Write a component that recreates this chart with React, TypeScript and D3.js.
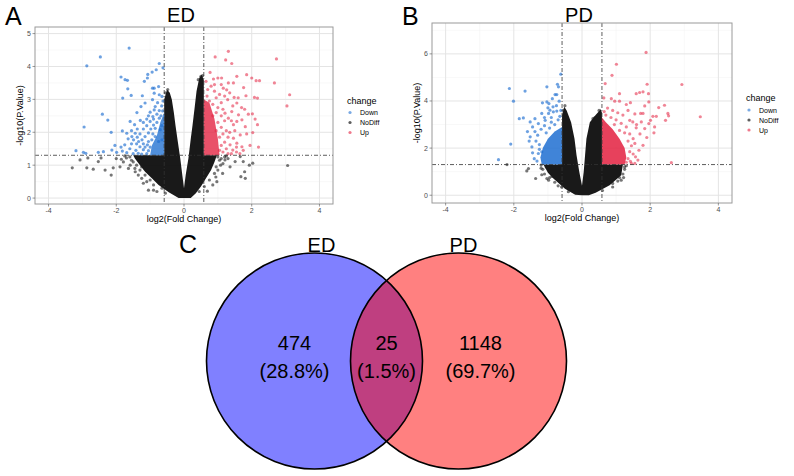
import React from "react";
import * as d3 from "d3";

// ---------- values ----------
const changeLevels = ["Down", "NoDiff", "Up"];
const changeColours = ["#1f6fd1", "#1a1a1a", "#e3203f"];

const xTicks = [-4, -2, 0, 2, 4];
const xMinor = [-3, -1, 1, 3];
const edYTicks = [0, 1, 2, 3, 4, 5];
const edYMinor = [0.5, 1.5, 2.5, 3.5, 4.5];
const pdYTicks = [0, 2, 4, 6];
const pdYMinor = [1, 3, 5, 7];

const fcCut = 0.585; // log2(1.5)
const pCut = 1.301; // -log10(0.05)

// ED: dense NoDiff cloud outline, dense coloured cores, then single points
const edCore = [[0, 0], [-0.16, 0], [-0.45, 0.18], [-0.75, 0.4], [-0.95, 0.6], [-1.15, 0.8], [-1.3, 1.0], [-1.45, 1.2], [-1.5, 1.3], [-0.585, 1.3], [-0.585, 3.0], [-0.5, 3.3], [-0.42, 3.2], [-0.36, 3.0], [-0.3, 2.6], [-0.25, 2.2], [-0.18, 1.7], [-0.11, 1.2], [-0.05, 0.7], [0, 0.3], [0.05, 0.7], [0.13, 1.2], [0.2, 1.8], [0.25, 2.2], [0.32, 2.8], [0.37, 3.25], [0.45, 3.65], [0.52, 3.75], [0.585, 3.6], [0.585, 1.3], [0.97, 1.3], [0.9, 1.1], [0.8, 0.85], [0.65, 0.6], [0.5, 0.35], [0.35, 0.15], [0.2, 0]];
const edDownCore = [[-0.585, 1.3], [-1.0, 1.3], [-0.95, 1.6], [-0.8, 1.9], [-0.7, 2.3], [-0.585, 2.6]];
const edUpCore = [[0.585, 1.3], [1.05, 1.3], [1.0, 1.8], [0.9, 2.4], [0.75, 2.9], [0.585, 3.0]];

const edDown = [[-1.62, 4.56], [-2.47, 4.29], [-2.87, 4.02], [-0.73, 4.09], [-0.62, 3.96], [-0.82, 3.9], [-0.94, 3.83], [-1.07, 3.76], [-1.08, 3.65], [-1.17, 3.55], [-1.86, 3.68], [-1.74, 3.6], [-1.67, 3.58], [-1.66, 3.32], [-1.56, 3.12], [-1.81, 3.04], [-1.23, 3.11], [-0.93, 3.34], [-0.88, 3.34], [-0.75, 3.39], [-0.88, 3.19], [-0.73, 3.14], [-0.65, 3.09], [-0.93, 2.99], [-1.15, 2.89], [-1.27, 2.78], [-1.39, 2.6], [-1.0, 2.61], [-0.88, 2.68], [-0.8, 2.55], [-0.73, 2.66], [-0.63, 2.65], [-2.41, 2.55], [-2.25, 2.37], [-2.95, 2.16], [-2.15, 2.0], [-1.59, 2.33], [-1.29, 2.36], [-1.2, 2.3], [-1.1, 2.4], [-1.0, 2.33], [-0.9, 2.4], [-0.8, 2.3], [-0.73, 2.43], [-1.46, 2.23], [-1.82, 2.04], [-1.69, 1.97], [-1.54, 1.87], [-1.44, 1.97], [-1.49, 1.77], [-1.34, 1.72], [-1.24, 1.77], [-1.15, 1.87], [-1.05, 1.72], [-0.95, 1.77], [-0.85, 1.87], [-0.75, 1.72], [-0.65, 1.77], [-3.19, 1.44], [-2.97, 1.39], [-2.9, 1.36], [-2.53, 1.39], [-2.38, 1.41], [-2.13, 1.46], [-1.99, 1.39], [-1.82, 1.43], [-1.69, 1.38], [-2.04, 1.6], [-1.86, 1.55], [-1.5, 1.35], [-1.35, 1.36], [-1.25, 1.34], [-1.1, 1.35], [-1.42, 1.45], [-1.2, 1.47], [-1.05, 1.44], [-1.3, 1.56], [-1.15, 1.55], [-1.0, 1.55], [-1.4, 1.65], [-1.2, 1.65], [-1.08, 1.62], [-1.3, 1.95], [-1.05, 1.98], [-0.92, 1.95], [-1.2, 2.1], [-0.98, 2.1], [-0.85, 2.12], [-0.7, 2.08], [-1.1, 2.2], [-0.9, 2.22], [-0.66, 2.2], [-1.05, 2.5], [-0.92, 2.48], [-0.68, 2.5], [-0.85, 2.78], [-0.66, 2.8], [-0.78, 2.9], [-0.62, 2.95], [-1.6, 1.5], [-1.75, 1.62], [-1.55, 1.65], [-1.65, 1.8], [-1.38, 1.85], [-1.38, 2.1], [-1.55, 2.05]];

const edUp = [[1.31, 4.46], [0.92, 4.29], [1.23, 4.2], [1.41, 4.09], [2.73, 4.23], [0.77, 3.82], [1.0, 3.65], [1.11, 3.65], [0.87, 3.62], [1.56, 3.7], [1.85, 3.75], [2.0, 3.65], [2.13, 3.57], [2.23, 3.57], [2.67, 3.5], [1.31, 3.5], [1.46, 3.5], [1.76, 3.36], [1.16, 3.34], [1.26, 3.29], [3.12, 3.14], [3.04, 2.8], [1.48, 3.06], [1.83, 3.11], [2.08, 3.06], [2.17, 3.04], [1.29, 2.99], [1.44, 2.8], [1.56, 2.89], [1.79, 2.7], [2.02, 2.56], [2.1, 2.4], [2.17, 2.23], [2.03, 1.99], [2.2, 1.55], [1.81, 2.17], [1.66, 1.92], [1.46, 2.23], [1.56, 2.33], [1.71, 2.38], [1.61, 2.53], [1.41, 2.63], [1.31, 2.43], [1.21, 2.58], [1.46, 1.82], [1.56, 1.67], [1.36, 1.62], [1.71, 1.56], [1.44, 1.46], [0.65, 3.55], [0.7, 3.3], [0.8, 3.4], [0.9, 3.25], [0.68, 3.1], [0.95, 3.05], [1.05, 3.15], [0.75, 2.95], [1.1, 2.9], [0.85, 2.85], [1.0, 2.75], [1.15, 2.7], [0.95, 2.6], [1.1, 2.5], [0.85, 2.5], [1.2, 2.35], [1.0, 2.3], [1.1, 2.15], [0.95, 2.05], [1.25, 2.05], [1.15, 1.95], [1.05, 1.85], [1.3, 1.85], [1.2, 1.7], [1.1, 1.6], [1.25, 1.5], [1.15, 1.4], [1.3, 1.35], [1.05, 1.45], [1.4, 1.35], [1.55, 1.4], [1.65, 1.35], [1.35, 2.0], [1.5, 2.05], [1.4, 2.35], [1.2, 3.1], [1.35, 3.2], [1.1, 3.45], [0.9, 3.45], [1.6, 3.05], [1.7, 2.75], [1.9, 2.55], [1.85, 1.95], [1.95, 1.6], [1.75, 1.45], [1.55, 1.55]];

const edNoDiff = [[-3.3, 0.92], [-3.07, 1.16], [-2.87, 0.92], [-2.68, 0.88], [-2.33, 0.85], [-2.15, 0.7], [-2.53, 1.11], [-2.84, 1.22], [-2.45, 1.22], [-2.09, 0.92], [-1.89, 0.95], [-1.79, 1.1], [-1.64, 0.9], [-1.44, 0.8], [-1.2, 0.45], [-1.05, 0.24], [-0.9, 0.24], [-1.25, 0.6], [-1.59, 1.0], [-2.0, 1.2], [-1.7, 1.22], [-1.3, 0.85], [-1.5, 1.1], [-1.35, 0.7], [-1.1, 0.5], [-0.8, 0.2], [-1.6, 1.25], [-1.55, 1.15], [-1.4, 1.0], [-1.25, 0.95], [-1.15, 0.7], [-1.0, 0.55], [-0.9, 0.4], [-0.65, 0.3], [-0.55, 0.15], [-1.75, 1.28], [-1.85, 1.18], [-1.45, 0.9], [1.21, 1.16], [1.36, 0.95], [1.51, 1.11], [1.66, 1.26], [1.75, 1.11], [1.79, 0.8], [1.68, 0.65], [1.81, 0.6], [1.93, 1.0], [2.03, 1.06], [3.06, 0.99], [1.14, 0.75], [0.97, 0.5], [0.69, 0.21], [1.08, 1.0], [0.94, 0.64], [1.2, 1.25], [1.3, 1.2], [1.1, 1.2], [1.0, 0.85], [0.85, 0.4], [1.0, 1.25], [1.05, 1.15], [0.95, 0.95], [0.9, 0.75], [0.75, 0.55], [0.6, 0.35], [0.45, 0.2], [1.15, 1.05], [1.25, 1.28], [-0.48, 3.3], [-0.55, 3.2], [0.5, 3.7], [0.42, 3.6], [0.55, 3.72]];

// PD
const pdCore = [[0, 0], [-0.2, 0.02], [-0.5, 0.28], [-0.84, 0.71], [-1.0, 0.95], [-1.13, 1.3], [-0.585, 1.3], [-0.585, 3.4], [-0.52, 3.75], [-0.45, 3.6], [-0.32, 3.1], [-0.22, 2.4], [-0.16, 1.7], [-0.08, 1.0], [0, 0.4], [0.05, 1.0], [0.09, 1.7], [0.13, 2.4], [0.23, 3.1], [0.4, 3.4], [0.55, 3.65], [0.585, 3.5], [0.585, 1.3], [1.2, 1.3], [1.15, 0.85], [0.81, 0.42], [0.4, 0.1], [0.2, 0]];
const pdDownCore = [[-0.585, 1.3], [-1.18, 1.3], [-1.22, 1.6], [-1.15, 2.0], [-1.0, 2.4], [-0.8, 2.7], [-0.585, 2.9]];
const pdUpCore = [[0.585, 1.3], [1.25, 1.3], [1.3, 1.6], [1.25, 2.0], [1.1, 2.4], [0.9, 2.8], [0.7, 3.1], [0.585, 3.3]];

const pdDown = [[-0.62, 5.14], [-0.72, 4.71], [-0.69, 4.6], [-1.03, 4.6], [-2.13, 4.53], [-1.67, 4.42], [-2.01, 3.99], [-0.79, 4.27], [-0.74, 4.27], [-0.87, 4.1], [-0.67, 3.99], [-1.16, 3.92], [-1.03, 3.96], [-0.97, 3.89], [-1.0, 3.71], [-0.94, 3.61], [-0.98, 3.47], [-1.18, 3.47], [-0.84, 3.54], [-0.74, 3.57], [-1.84, 3.25], [-1.72, 3.28], [-1.38, 3.25], [-1.52, 3.11], [-1.28, 3.04], [-1.08, 3.18], [-2.09, 2.17], [-2.45, 1.51], [-1.52, 2.48], [-1.47, 2.05], [-1.38, 2.7], [-1.18, 1.84], [-1.28, 1.77], [-1.4, 1.55], [-1.45, 1.8], [-1.35, 2.3], [-1.3, 2.55], [-1.2, 2.8], [-1.1, 2.95], [-0.9, 3.1], [-0.7, 3.2], [-0.8, 3.0], [-0.65, 3.35], [-1.05, 2.65], [-0.95, 2.85], [-1.25, 2.15], [-1.32, 1.45], [-1.25, 1.95], [-1.55, 2.3], [-1.6, 2.7], [-1.45, 2.9], [-0.9, 3.3], [-1.1, 3.3], [-0.75, 3.8], [-0.62, 3.6], [-0.85, 3.75]];

const pdUp = [[1.88, 6.06], [1.01, 5.56], [0.88, 5.09], [0.68, 4.74], [2.93, 4.7], [1.91, 4.71], [1.59, 4.31], [1.69, 4.36], [1.79, 4.39], [1.95, 4.31], [1.1, 4.31], [0.64, 4.13], [0.86, 4.1], [0.96, 3.99], [1.1, 3.99], [1.42, 3.93], [1.3, 3.85], [1.96, 3.96], [2.42, 3.82], [2.25, 3.72], [1.84, 3.79], [1.72, 3.47], [1.79, 3.47], [2.52, 3.47], [2.54, 3.37], [3.47, 3.33], [2.08, 3.35], [2.18, 3.35], [2.01, 3.18], [2.45, 3.18], [2.13, 2.9], [1.96, 3.04], [1.74, 3.11], [1.4, 3.18], [1.49, 3.11], [2.11, 2.65], [1.84, 2.83], [1.59, 2.86], [1.79, 2.12], [1.67, 1.91], [1.57, 1.63], [1.64, 1.49], [1.42, 1.44], [2.62, 1.38], [0.75, 3.7], [0.9, 3.6], [1.05, 3.5], [1.2, 3.4], [0.7, 3.4], [0.85, 3.3], [1.0, 3.2], [1.15, 3.05], [1.3, 2.9], [1.25, 2.65], [1.4, 2.6], [1.5, 2.4], [1.45, 2.1], [1.55, 2.2], [1.4, 1.85], [1.5, 1.75], [1.35, 1.55], [1.45, 1.35], [1.55, 1.35], [1.3, 1.4], [1.1, 2.75], [0.95, 3.0], [0.65, 3.55], [1.35, 3.6], [1.55, 3.45], [1.6, 3.0], [1.7, 2.6], [1.9, 2.45], [1.35, 2.3]];

const pdNoDiff = [[-2.2, 1.3], [-1.57, 1.13], [-1.62, 1.03], [-1.18, 0.87], [-1.36, 0.71], [-0.98, 0.64], [-1.03, 0.71], [-0.88, 0.8], [-1.2, 1.15], [-1.05, 1.2], [-0.7, 0.4], [-1.2, 1.28], [-1.15, 1.1], [-1.1, 0.9], [-0.95, 0.75], [-0.8, 0.55], [-0.6, 0.35], [-0.4, 0.15], [1.15, 0.64], [1.2, 0.9], [1.25, 1.2], [1.1, 0.75], [0.9, 0.5], [1.25, 1.1], [1.22, 0.75], [1.05, 0.6], [0.9, 0.35], [0.6, 0.2], [1.3, 1.25], [0.32, 3.25], [0.38, 3.3], [0.5, 3.6], [-0.5, 3.8], [-0.55, 3.6]];

// Venn
const vennSets = ["ED", "PD"];
const vennCounts = [474, 25, 1148];
const vennPercents = ["28.8%", "1.5%", "69.7%"];
const vennFills = ["#8080ff", "#ff8080", "#bf3f80"];

const font = "'Liberation Sans', Arial, Helvetica, sans-serif";

type Pt = number[];

const Volcano = ({ id, tag, title, box, yDomain, yTicks, yMinor, core, downCore, upCore, coreOpacity, down, up, noDiff }: any) => {
  const x = d3.scaleLinear().domain([-4.4, 4.4]).range([box.left, box.right]);
  const y = d3.scaleLinear().domain(yDomain).range([box.bottom, box.top]);
  const poly = d3.line<Pt>().x(d => x(d[0])).y(d => y(d[1])).curve(d3.curveLinearClosed);
  const midX = (box.left + box.right) / 2;
  const midY = (box.top + box.bottom) / 2;
  const pt = (d: Pt, i: number, c: string, o: number) => (
    <circle key={i} cx={x(d[0])} cy={y(d[1])} r={1.6} fill={c} fillOpacity={o} />
  );
  return (
    <g>
      <text x={box.left - 30} y={25} fontSize={25}>{tag}</text>
      <text x={midX - 3} y={22} fontSize={20} textAnchor="middle">{title}</text>
      <clipPath id={id}><rect x={box.left} y={box.top} width={box.right - box.left} height={box.bottom - box.top} /></clipPath>
      <g clipPath={`url(#${id})`}>
        {xMinor.map(t => <line key={"xm" + t} x1={x(t)} x2={x(t)} y1={box.top} y2={box.bottom} stroke="#f0f0f0" strokeWidth={0.5} />)}
        {yMinor.map((t: number) => <line key={"ym" + t} y1={y(t)} y2={y(t)} x1={box.left} x2={box.right} stroke="#f0f0f0" strokeWidth={0.5} />)}
        {xTicks.map(t => <line key={"xg" + t} x1={x(t)} x2={x(t)} y1={box.top} y2={box.bottom} stroke="#e4e4e4" strokeWidth={1} />)}
        {yTicks.map((t: number) => <line key={"yg" + t} y1={y(t)} y2={y(t)} x1={box.left} x2={box.right} stroke="#e4e4e4" strokeWidth={1} />)}
        <path d={poly(core) || ""} fill="#0d0d0d" fillOpacity={0.95} />
        {noDiff.map((d: Pt, i: number) => pt(d, i, changeColours[1], 0.6))}
        <path d={poly(downCore) || ""} fill={changeColours[0]} fillOpacity={coreOpacity} />
        {down.map((d: Pt, i: number) => pt(d, i, changeColours[0], 0.65))}
        <path d={poly(upCore) || ""} fill={changeColours[2]} fillOpacity={coreOpacity} />
        {up.map((d: Pt, i: number) => pt(d, i, changeColours[2], 0.55))}
        {[-fcCut, fcCut].map(v => (
          <line key={"v" + v} x1={x(v)} x2={x(v)} y1={box.top} y2={box.bottom} stroke="#333" strokeWidth={0.8} strokeDasharray="4 2 1 2" />
        ))}
        <line x1={box.left} x2={box.right} y1={y(pCut)} y2={y(pCut)} stroke="#333" strokeWidth={0.8} strokeDasharray="4 2 1 2" />
      </g>
      <rect x={box.left} y={box.top} width={box.right - box.left} height={box.bottom - box.top} fill="none" stroke="#9a9a9a" strokeWidth={1} />
      {xTicks.map(t => (
        <g key={"xt" + t}>
          <line x1={x(t)} x2={x(t)} y1={box.bottom} y2={box.bottom + 2.5} stroke="#555" strokeWidth={0.6} />
          <text x={x(t)} y={box.bottom + 9} fontSize={7} fill="#4d4d4d" textAnchor="middle">{t < 0 ? "-" + Math.abs(t) : t}</text>
        </g>
      ))}
      {yTicks.map((t: number) => (
        <g key={"yt" + t}>
          <line x1={box.left - 2.5} x2={box.left} y1={y(t)} y2={y(t)} stroke="#555" strokeWidth={0.6} />
          <text x={box.left - 4} y={y(t) + 2.5} fontSize={7} fill="#4d4d4d" textAnchor="end">{t}</text>
        </g>
      ))}
      <text x={midX} y={box.bottom + 18} fontSize={9} textAnchor="middle">log2(Fold Change)</text>
      <text transform={`translate(${box.left - 12},${midY}) rotate(-90)`} fontSize={9} textAnchor="middle">-log10(P.Value)</text>
      <g transform={`translate(${box.right + 14},${midY - 12})`}>
        <text x={0} y={0} fontSize={9}>change</text>
        {changeLevels.map((lv, i) => (
          <g key={lv} transform={`translate(0,${9 + i * 10})`}>
            <circle cx={3} cy={0} r={1.6} fill={changeColours[i]} fillOpacity={i === 1 ? 0.7 : 0.6} />
            <text x={13} y={2.5} fontSize={7}>{lv}</text>
          </g>
        ))}
      </g>
    </g>
  );
};

const Venn = () => {
  const cx = d3.scaleLinear().domain([0, 1]).range([314.5, 458.5]);
  const r = 108;
  const cy = 361;
  const regionX = [cx(0) - 20, (cx(0) + cx(1)) / 2, cx(1) + 22];
  return (
    <g>
      <text x={179} y={253} fontSize={25}>C</text>
      <clipPath id="vennA"><circle cx={cx(0)} cy={cy} r={r} /></clipPath>
      {vennSets.map((s, i) => (
        <circle key={s} cx={cx(i)} cy={cy} r={r} fill={vennFills[i]} />
      ))}
      <circle cx={cx(1)} cy={cy} r={r} fill={vennFills[2]} clipPath="url(#vennA)" />
      {vennSets.map((s, i) => (
        <circle key={"o" + s} cx={cx(i)} cy={cy} r={r} fill="none" stroke="#000" strokeWidth={1.6} />
      ))}
      {vennSets.map((s, i) => (
        <text key={"t" + s} x={cx(i) + (i === 0 ? 7 : 5)} y={252} fontSize={20} textAnchor="middle">{s}</text>
      ))}
      {vennCounts.map((c, i) => (
        <g key={"c" + i}>
          <text x={regionX[i]} y={350} fontSize={20} textAnchor="middle">{c}</text>
          <text x={regionX[i]} y={378} fontSize={20} textAnchor="middle">({vennPercents[i]})</text>
        </g>
      ))}
    </g>
  );
};

export default function App() {
  return (
    <svg width={794} height={476} style={{ position: "absolute", left: 0, top: 0, background: "#fff", fontFamily: font }}>
      <Volcano id="clipED" tag="A" title="ED" box={{ left: 35, right: 333, top: 27, bottom: 204 }}
        yDomain={[-0.18, 5.2]} yTicks={edYTicks} yMinor={edYMinor} coreOpacity={0.78}
        core={edCore} downCore={edDownCore} upCore={edUpCore} down={edDown} up={edUp} noDiff={edNoDiff} />
      <Volcano id="clipPD" tag="B" title="PD" box={{ left: 432, right: 732, top: 23, bottom: 203 }}
        yDomain={[-0.33, 7.31]} yTicks={pdYTicks} yMinor={pdYMinor} coreOpacity={0.85}
        core={pdCore} downCore={pdDownCore} upCore={pdUpCore} down={pdDown} up={pdUp} noDiff={pdNoDiff} />
      <Venn />
    </svg>
  );
}
